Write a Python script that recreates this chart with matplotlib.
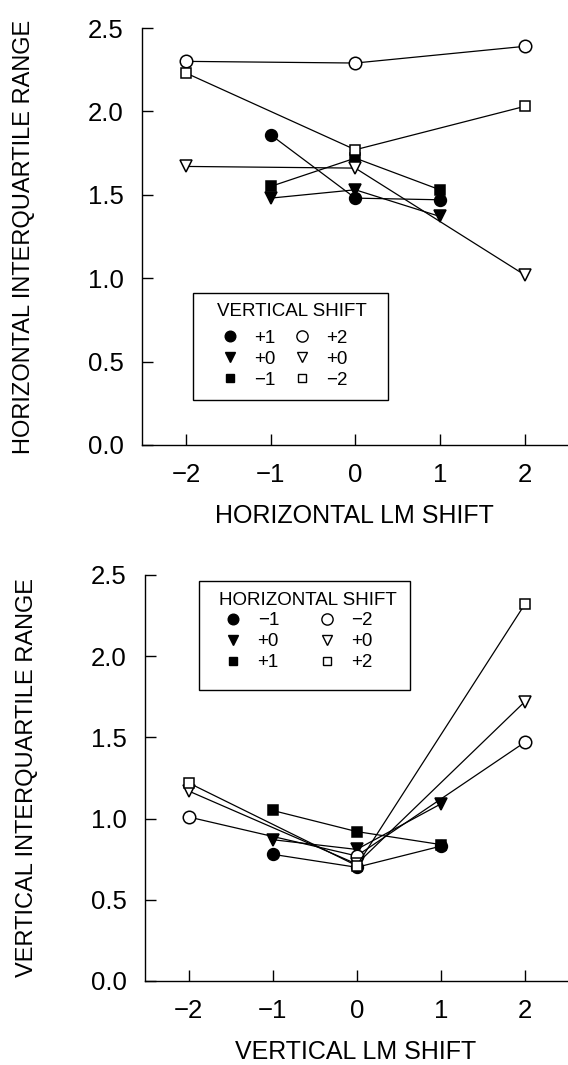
import matplotlib
matplotlib.use('Agg')
import matplotlib.pyplot as plt
from matplotlib.lines import Line2D
from matplotlib.patches import Rectangle

plt.rcParams['font.family'] = ['Liberation Sans', 'DejaVu Sans']

# ---- top panel: horizontal LM shift, one series per vertical shift ----
h_x_inner = [-1, 0, 1]
h_x_outer = [-2, 0, 2]
h_vs_p1 = [1.86, 1.48, 1.47]      # filled circle, +1
h_vs_p0f = [1.48, 1.53, 1.37]     # filled triangle, +0
h_vs_m1 = [1.55, 1.72, 1.53]      # filled square, -1
h_vs_p2 = [2.30, 2.29, 2.39]      # open circle, +2
h_vs_p0o = [1.67, 1.66, 1.02]     # open triangle, +0
h_vs_m2 = [2.23, 1.77, 2.03]      # open square, -2
h_labels = ['+1', '+0', '\u22121', '+2', '+0', '\u22122']

# ---- bottom panel: vertical LM shift, one series per horizontal shift ----
v_x_inner = [-1, 0, 1]
v_x_outer = [-2, 0, 2]
v_hs_m1 = [0.78, 0.70, 0.83]      # filled circle, -1
v_hs_p0f = [0.87, 0.81, 1.09]     # filled triangle, +0
v_hs_p1 = [1.05, 0.92, 0.84]      # filled square, +1
v_hs_m2 = [1.01, 0.77, 1.47]      # open circle, -2
v_hs_p0o = [1.17, 0.72, 1.72]     # open triangle, +0
v_hs_p2 = [1.22, 0.71, 2.32]      # open square, +2
v_labels = ['\u22121', '+0', '+1', '\u22122', '+0', '+2']

yticks = [0.0, 0.5, 1.0, 1.5, 2.0, 2.5]
xticks = [-2, -1, 0, 1, 2]

styles = [('o', 'k', 8.5), ('v', 'k', 8), ('s', 'k', 6.5),
          ('o', 'white', 9), ('v', 'white', 8), ('s', 'white', 7)]

fig = plt.figure(figsize=(5.68, 10.65), dpi=100)
ax1 = fig.add_axes([0.250, 0.5822, 0.748, 0.3915])
ax2 = fig.add_axes([0.255, 0.0789, 0.743, 0.3812])


def draw_panel(ax, xs, series, labels, xlabel, ylabel, title,
               box, title_at, leg_at, colspace):
    for x, y, (m, fc, ms) in zip(xs, series, styles):
        ax.plot(x, y, '-', color='k', lw=0.9, marker=m, ms=ms,
                mfc=fc, mec='k', mew=1.1, zorder=3)
    ax.set_xlim(-2.52, 2.5)
    ax.set_ylim(0, 2.5)
    ax.set_xticks(xticks)
    ax.set_yticks(yticks)
    ax.set_yticklabels([f'{t:.1f}' for t in yticks])
    ax.spines['top'].set_visible(False)
    ax.spines['right'].set_visible(False)
    for s in ('left', 'bottom'):
        ax.spines[s].set_linewidth(1.0)
    ax.tick_params(axis='both', direction='in', length=8, width=1.0,
                   labelsize=18.5)
    ax.tick_params(axis='y', pad=13)
    ax.tick_params(axis='x', pad=13)
    ax.set_xlabel(xlabel, fontsize=18, labelpad=12)
    ax.set_ylabel(ylabel, fontsize=17, labelpad=38)

    # legend: square box, title text, two columns of entries
    x0, y0, x1, y1 = box
    ax.add_patch(Rectangle((x0, y0), x1 - x0, y1 - y0, transform=ax.transData,
                           fill=False, edgecolor='k', lw=1.0, zorder=4,
                           clip_on=False))
    ax.text(title_at[0], title_at[1], title, fontsize=13.5,
            ha='left', va='center')
    handles = []
    for (m, fc, ms) in styles:
        handles.append(Line2D([0], [0], linestyle='none', marker=m,
                              ms=ms * 0.9, mfc=fc, mec='k', mew=1.0))
    ax.legend(handles, labels, ncol=2,
              loc='upper left', bbox_to_anchor=leg_at,
              bbox_transform=ax.transData, borderaxespad=0, borderpad=0,
              fontsize=13.5, frameon=False,
              handlelength=1.0, handletextpad=0.8, columnspacing=colspace,
              labelspacing=0.2)


draw_panel(ax1, [h_x_inner] * 3 + [h_x_outer] * 3,
           [h_vs_p1, h_vs_p0f, h_vs_m1, h_vs_p2, h_vs_p0o, h_vs_m2],
           h_labels, 'HORIZONTAL LM SHIFT',
           'HORIZONTAL INTERQUARTILE RANGE', 'VERTICAL SHIFT',
           (-1.92, 0.27, 0.39, 0.91), (-1.63, 0.80), (-1.59, 0.69), 0.9)

draw_panel(ax2, [v_x_inner] * 3 + [v_x_outer] * 3,
           [v_hs_m1, v_hs_p0f, v_hs_p1, v_hs_m2, v_hs_p0o, v_hs_p2],
           v_labels, 'VERTICAL LM SHIFT',
           'VERTICAL INTERQUARTILE RANGE', 'HORIZONTAL SHIFT',
           (-1.88, 1.79, 0.63, 2.46), (-1.64, 2.345), (-1.58, 2.27), 2.05)

fig.savefig('out.png', dpi=100)
